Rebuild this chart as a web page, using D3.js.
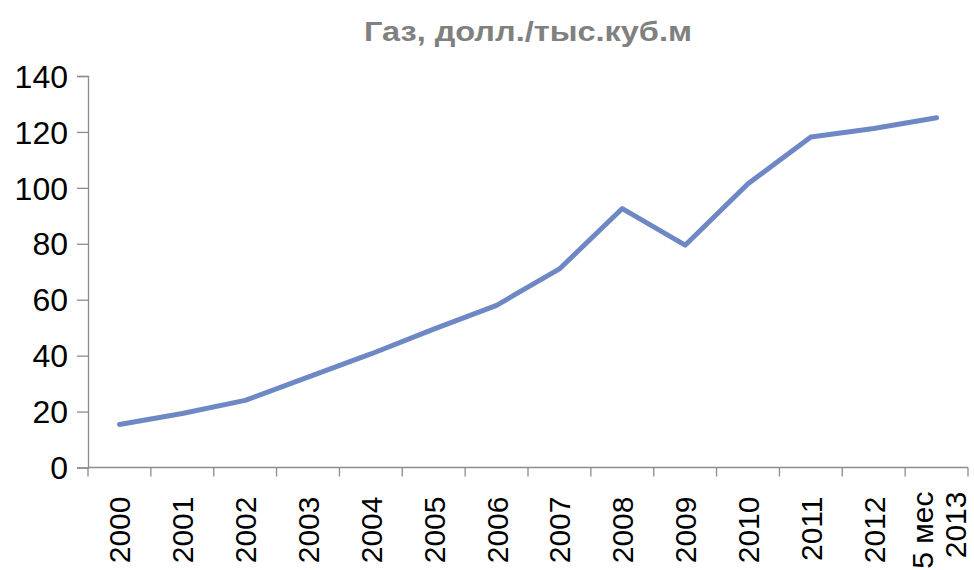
<!DOCTYPE html>
<html><head><meta charset="utf-8">
<script src="https://cdn.jsdelivr.net/npm/d3@7"></script>
<style>body{margin:0;background:#fff}svg{display:block}</style>
</head><body>
<svg id="c" width="974" height="570"></svg>
<script>
const categories = ["2000","2001","2002","2003","2004","2005","2006","2007","2008","2009","2010","2011","2012","5 мес 2013"];
const values = [15.4, 19.3, 24.0, 32.3, 40.6, 49.5, 58.0, 71.0, 92.6, 79.5, 101.5, 118.2, 121.2, 125.1];
const yTicks = [0, 20, 40, 60, 80, 100, 120, 140];
const title = "Газ, долл./тыс.куб.м";

(function(){
const svg = d3.select("#c");
const mLeft = 88, mRight = 968, mTop = 76, mBottom = 467.5;
const x = d3.scaleBand().domain(categories).range([mLeft, mRight]);
const y = d3.scaleLinear().domain([0, 140]).range([mBottom, mTop]);
const axisColor = "#8c8c8c";
const font = "'Liberation Sans', Arial, sans-serif";

svg.append("text").attr("x", 528).attr("y", 41).attr("text-anchor", "middle")
  .attr("font-family", font).attr("font-weight", "bold").attr("font-size", 28)
  .attr("fill", "#808080").attr("textLength", 328).attr("lengthAdjust", "spacingAndGlyphs")
  .text(title);

// Y axis
const ya = svg.append("g").attr("transform", `translate(${mLeft},0)`)
  .call(d3.axisLeft(y).tickValues(yTicks).tickSize(11).tickPadding(9).tickFormat(d3.format("d")));
ya.select(".domain").attr("stroke", axisColor).attr("stroke-width", 1.3);
ya.selectAll(".tick line").attr("stroke", axisColor).attr("stroke-width", 1.3);
ya.selectAll(".tick text").attr("font-family", font).attr("font-size", 32).attr("fill", "#000").attr("dy", "0.35em");

// X axis with boundary ticks
const xa = svg.append("g").attr("transform", `translate(0,${mBottom})`);
xa.append("line").attr("x1", mLeft).attr("x2", mRight).attr("stroke", axisColor).attr("stroke-width", 1.3);
const bounds = categories.map(c => x(c)).concat([x(categories[categories.length-1]) + x.bandwidth()]);
xa.selectAll("line.t").data(bounds).join("line").attr("class","t")
  .attr("x1", d => d).attr("x2", d => d).attr("y1", 0).attr("y2", 9)
  .attr("stroke", axisColor).attr("stroke-width", 1.3);

const lab = xa.selectAll("g.lab").data(categories).join("g").attr("class","lab")
  .attr("transform", d => `translate(${x(d) + x.bandwidth()/2},0) rotate(-90)`);
lab.each(function(d){
  const g = d3.select(this);
  const parts = d.split(" ");
  if (parts.length > 1) {
    const first = parts.slice(0, -1).join(" "), last = parts[parts.length-1];
    g.append("text").attr("text-anchor","end").attr("font-family",font).attr("font-size",30)
      .attr("x", -24).attr("y", -4).text(first);
    g.append("text").attr("text-anchor","end").attr("font-family",font).attr("font-size",30)
      .attr("x", -24).attr("y", 29).text(last);
  } else {
    g.append("text").attr("text-anchor","end").attr("font-family",font).attr("font-size",30)
      .attr("x", -29).attr("y", 11).text(d);
  }
});

// Line
const line = d3.line().x((d,i) => x(categories[i]) + x.bandwidth()/2).y(d => y(d));
svg.append("path").datum(values).attr("d", line).attr("fill","none")
  .attr("stroke", "#6e88c6").attr("stroke-width", 5).attr("stroke-linejoin","round").attr("stroke-linecap","round");
})();
</script>
</body></html>
